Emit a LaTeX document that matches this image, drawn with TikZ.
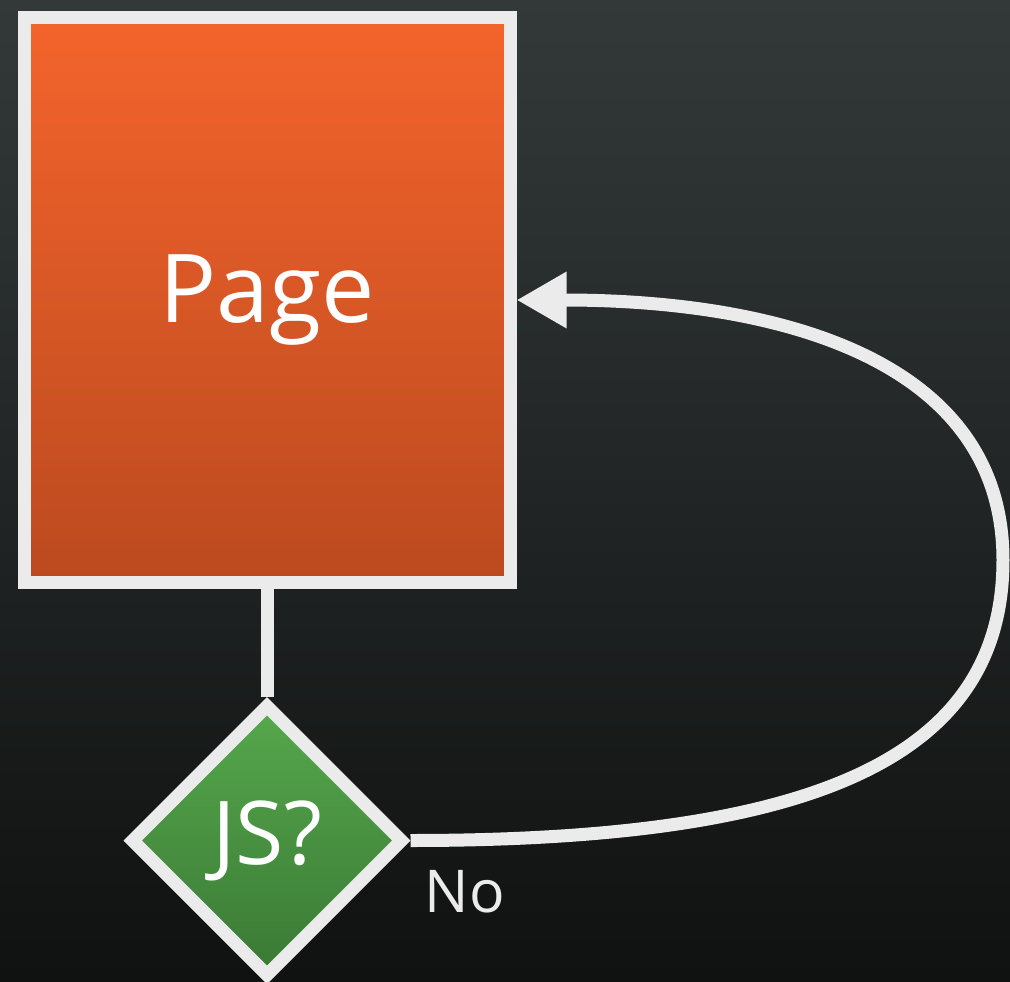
\documentclass[tikz,border=0pt]{standalone}
\usepackage{fontspec}
\setmainfont{Open Sans}
\usetikzlibrary{positioning, shapes.geometric, arrows.meta}

\definecolor{bgtop}{HTML}{333939}
\definecolor{bgbot}{HTML}{101111}
\definecolor{flowgray}{HTML}{EBEBEB}
\definecolor{pagetop}{HTML}{F4642C}
\definecolor{pagebot}{HTML}{BB4A1F}
\definecolor{jstop}{HTML}{56A84D}
\definecolor{jsbot}{HTML}{3A7934}

\begin{document}
\begin{tikzpicture}[
                x=1pt, y=-1pt,
                >={Triangle[length=50pt, width=53pt]},
                every edge/.style={draw=flowgray, line width=13pt},
                flow/.style={draw=flowgray, line width=13pt},
                pagebox/.style={draw=flowgray, line width=13pt, top color=pagetop, bottom color=pagebot,
                    minimum width=486pt, minimum height=565pt, text=white, font=\fontsize{95pt}{104pt}\selectfont},
                decision/.style={diamond, aspect=1, draw=flowgray, line width=13pt, top color=jstop, bottom color=jsbot,
                    minimum width=274pt, minimum height=274pt, inner sep=0pt, text=white, font=\fontsize{88pt}{94pt}\selectfont},
                branchlabel/.style={inner sep=0pt, text=flowgray, font=\fontsize{59pt}{64pt}\selectfont}]

    %%% BACKGROUND
    \shade [top color=bgtop, bottom color=bgbot] (0,0) rectangle (1010,982);
    \useasboundingbox (0,0) rectangle (1010,982);

    %%% NODES
    \node [pagebox] (page) at (267,300) {Page};
    \node [decision, below=108pt of page] (js) {JS?};
    \node [branchlabel, below right=30pt and 14pt of js.east] (no) {No};
    \coordinate (loopright) at (1003,560);

    %%% CONNECTIONS
    \path (page) edge (js);
    \draw [flow, ->] (js.east) .. controls +(400,0) and +(0,200) .. (loopright)
        .. controls +(0,-200) and +(263,0) .. (page.east);

\end{tikzpicture}
\end{document}
